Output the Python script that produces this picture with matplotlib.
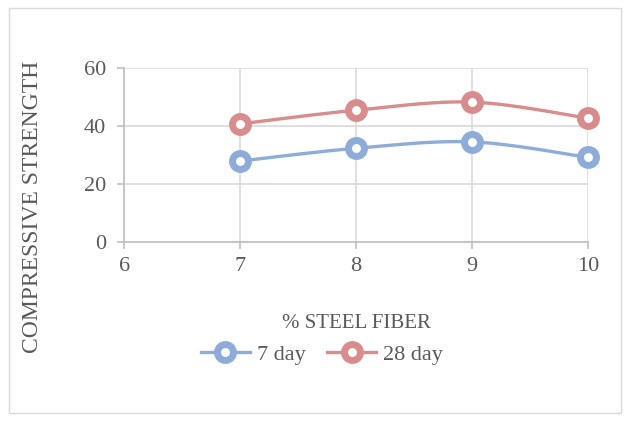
import numpy as np
import matplotlib.pyplot as plt
from matplotlib.patches import Rectangle

plt.rcParams['font.family'] = ['Liberation Serif', 'DejaVu Serif']

# % steel fiber and strengths
fiber = [7, 8, 9, 10]
day7 = [27.9, 32.3, 34.5, 29.2]
day28 = [40.7, 45.4, 48.2, 42.7]
xticks = [6, 7, 8, 9, 10]
yticks = [0, 20, 40, 60]

blue = '#8EACD8'
red = '#D98C8C'
grey = '#595959'


def smooth(x, y, n=30):
    # catmull-rom curve through the points, like a smoothed line
    x = np.asarray(x, float)
    y = np.asarray(y, float)
    px = np.concatenate([[x[0]], x, [x[-1]]])
    py = np.concatenate([[y[0]], y, [y[-1]]])
    xs, ys = [], []
    t = np.linspace(0, 1, n)
    for i in range(1, len(px) - 2):
        for p, out in ((px, xs), (py, ys)):
            p0, p1, p2, p3 = p[i - 1], p[i], p[i + 1], p[i + 2]
            out.extend(0.5 * (2 * p1 + (-p0 + p2) * t
                              + (2 * p0 - 5 * p1 + 4 * p2 - p3) * t ** 2
                              + (-p0 + 3 * p1 - 3 * p2 + p3) * t ** 3))
    return xs, ys


fig = plt.figure(figsize=(6.3, 4.24), dpi=100)
ax = fig.add_axes([0.197, 0.429, 0.736, 0.411])

for y, c, lab in ((day7, blue, '7 day'), (day28, red, '28 day')):
    sx, sy = smooth(fiber, y)
    ax.plot(sx, sy, color=c, lw=2.4, solid_capstyle='butt', zorder=3, clip_on=False)
    ax.plot(fiber, y, ls='none', marker='o', ms=11.5, mew=5, mec=c, mfc='white',
            zorder=4, clip_on=False)
    ax.plot([], [], color=c, lw=2.4, marker='o', ms=11.5, mew=5, mec=c, mfc='white', label=lab)

ax.set_xlim(6, 10)
ax.set_ylim(0, 60)
ax.set_xticks(xticks)
ax.set_yticks(yticks)
ax.grid(True, color='#D9D9D9', lw=1.2)
ax.set_axisbelow(True)
for s in ('top', 'right'):
    ax.spines[s].set_visible(False)
for s in ('left', 'bottom'):
    ax.spines[s].set_color('#BFBFBF')
    ax.spines[s].set_linewidth(1.2)
ax.tick_params(colors='#BFBFBF', labelcolor=grey, labelsize=16, length=5, width=1.2)
ax.tick_params(axis='x', pad=6)
ax.tick_params(axis='y', pad=8)

ax.set_xlabel('% STEEL FIBER', color=grey, fontsize=15, labelpad=27)
ax.set_ylabel('COMPRESSIVE STRENGTH', color=grey, fontsize=17)
ax.yaxis.set_label_coords(-0.176, 0.20)

fig.legend(loc='center', bbox_to_anchor=(0.511, 0.163), ncol=2, frameon=False,
           fontsize=16, labelcolor=grey, handlelength=2.2, columnspacing=1.0,
           handletextpad=0.3)

fig.patches.append(Rectangle((0.015, 0.025), 0.97, 0.955, transform=fig.transFigure,
                             fill=False, ec='#D9D9D9', lw=1))

fig.savefig('out.png', dpi=100)
